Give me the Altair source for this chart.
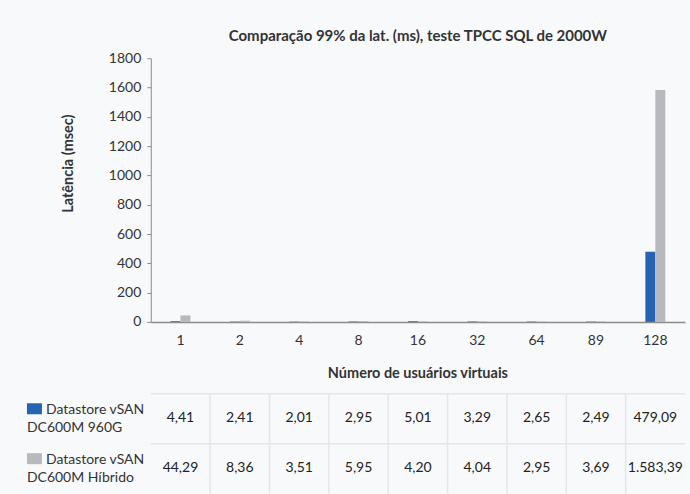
import altair as alt
import pandas as pd

# ---- data ----
categories = ["1", "2", "4", "8", "16", "32", "64", "89", "128"]
series = ["Datastore vSAN DC600M 960G", "Datastore vSAN DC600M Híbrido"]
series_line1 = ["Datastore vSAN", "Datastore vSAN"]
series_line2 = ["DC600M 960G", "DC600M Híbrido"]
values_960g = [4.41, 2.41, 2.01, 2.95, 5.01, 3.29, 2.65, 2.49, 479.09]
values_hibrido = [44.29, 8.36, 3.51, 5.95, 4.20, 4.04, 2.95, 3.69, 1583.39]
y_ticks = [0, 200, 400, 600, 800, 1000, 1200, 1400, 1600, 1800]
colors = ["#2663b0", "#b7b9be"]

title_text = "Comparação 99% da lat. (ms), teste TPCC SQL de 2000W"
y_title = "Latência (msec)"
x_title = "Número de usuários virtuais"

FONT = "Lato"


def br(v):
    s = f"{v:,.2f}"
    return s.replace(",", "X").replace(".", ",").replace("X", ".")


rows = []
for s, vals in zip(series, [values_960g, values_hibrido]):
    for c, v in zip(categories, vals):
        rows.append({"Usuarios": c, "Serie": s, "Latencia": v, "label": br(v)})
df = pd.DataFrame(rows)

legend_df = pd.DataFrame({"Serie": series, "l1": series_line1, "l2": series_line2})
vlines_df = pd.DataFrame({"Usuarios": categories[1:]})

W = 535

color_enc = alt.Color("Serie:N", scale=alt.Scale(domain=series, range=colors), legend=None)

# ---- bar chart ----
bars = alt.Chart(df).mark_bar().encode(
    x=alt.X(
        "Usuarios:N",
        sort=categories,
        scale=alt.Scale(domain=categories, paddingInner=0.664, paddingOuter=0.332),
        axis=alt.Axis(
            title=None, labelAngle=0, ticks=False, labelPadding=12,
            labelFontSize=14, labelColor="#333333", labelFont=FONT,
            domainColor="#8c8c8c", domainWidth=1.5,
        ),
    ),
    xOffset=alt.XOffset("Serie:N", sort=series,
                        scale=alt.Scale(domain=series, paddingInner=0, paddingOuter=0)),
    y=alt.Y(
        "Latencia:Q",
        scale=alt.Scale(domain=[0, 1800], nice=False),
        axis=alt.Axis(
            values=y_ticks, grid=False, title=y_title, format="d",
            labelFontSize=14, labelColor="#333333", labelFont=FONT, labelPadding=6,
            tickSize=4, tickColor="#8c8c8c", domainColor="#8c8c8c",
            titleFont=FONT, titleFontSize=14.5, titleFontWeight="bold", titleColor="#333333",
            titleX=-82, titleY=105, titleAlign="center", titleBaseline="middle",
        ),
    ),
    color=color_enc,
).properties(
    width=W, height=264,
    title=alt.TitleParams(title_text, font=FONT, fontSize=15, fontWeight="bold",
                          color="#333333", anchor="middle", offset=7),
)

# ---- table ----
xs = alt.Scale(domain=categories, paddingInner=0, paddingOuter=0)
ys = alt.Scale(domain=series, paddingInner=0, paddingOuter=0)
line_color = "#e4e6ea"

hrules = alt.Chart(legend_df).mark_rule(color=line_color, strokeWidth=1.5).encode(
    y=alt.Y("Serie:N", bandPosition=0, scale=ys, axis=None)
)
vrules = alt.Chart(vlines_df).mark_rule(color=line_color, strokeWidth=1.5).encode(
    x=alt.X("Usuarios:N", bandPosition=0, scale=xs, axis=None)
)
cells = alt.Chart(df).mark_text(font=FONT, fontSize=14, color="#222222", dy=-1).encode(
    x=alt.X("Usuarios:N", scale=xs, axis=None),
    y=alt.Y("Serie:N", scale=ys, axis=None),
    text="label:N",
)
squares = alt.Chart(legend_df).mark_bar(size=11, yOffset=-10).encode(
    x=alt.value(-124), x2=alt.value(-109),
    y=alt.Y("Serie:N", scale=ys, axis=None),
    color=color_enc,
)
lab1 = alt.Chart(legend_df).mark_text(font=FONT, fontSize=14, color="#333333",
                                      align="left", dy=-9).encode(
    x=alt.value(-105), y=alt.Y("Serie:N", scale=ys, axis=None), text="l1:N"
)
lab2 = alt.Chart(legend_df).mark_text(font=FONT, fontSize=14, color="#333333",
                                      align="left", dy=9).encode(
    x=alt.value(-124), y=alt.Y("Serie:N", scale=ys, axis=None), text="l2:N"
)

table = alt.layer(hrules, vrules, cells, squares, lab1, lab2).properties(
    width=W, height=100,
    title=alt.TitleParams(x_title, font=FONT, fontSize=14.5, fontWeight="bold",
                          color="#333333", anchor="middle", offset=12),
)

chart = alt.vconcat(bars, table, spacing=17).resolve_scale(
    x="independent", y="independent", color="shared"
).configure(
    background="#f8f9fb",
    padding={"left": 27, "top": 29, "right": 4, "bottom": 0},
).configure_view(stroke=None)

chart.save("out.html", embed_options={"renderer": "svg", "actions": False})
